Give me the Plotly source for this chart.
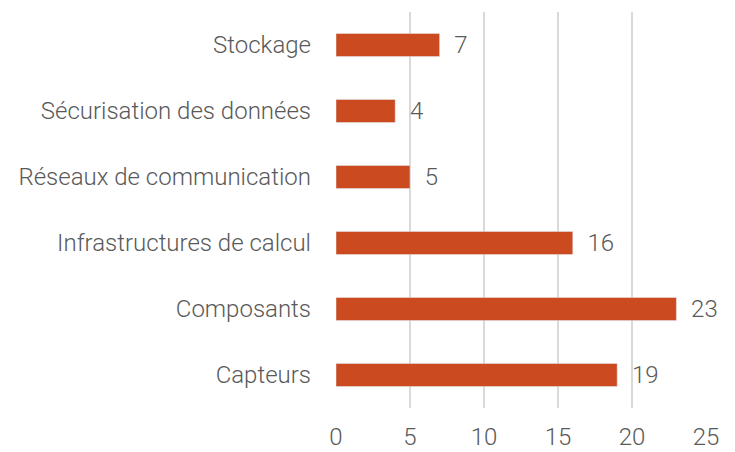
import plotly.graph_objects as go

categories = ["Capteurs", "Composants", "Infrastructures de calcul",
              "Réseaux de communication", "Sécurisation des données", "Stockage"]
values = [19, 23, 16, 5, 4, 7]
x_ticks = [0, 5, 10, 15, 20, 25]

grey = "#595959"
font = dict(family="Roboto", size=24, color=grey, weight=300)

fig = go.Figure()
fig.add_trace(go.Bar(
    x=values,
    y=categories,
    orientation="h",
    marker=dict(color="#CC4A1F"),
    text=values,
    texttemplate="  %{x}",
    textposition="outside",
    constraintext="none",
    textfont=font,
    cliponaxis=False,
))

# the page body has an 8px margin, so the figure is shifted up/left by 8px
fig.update_layout(
    width=735, height=452,
    margin=dict(l=328, r=37, t=4, b=52, autoexpand=False),
    plot_bgcolor="white",
    paper_bgcolor="white",
    font=font,
    bargap=0.65,
    showlegend=False,
    xaxis=dict(
        range=[0, 25],
        tickvals=x_ticks,
        showgrid=True,
        gridcolor="#D9D9D9",
        gridwidth=1.5,
        zeroline=False,
        ticks="",
        ticklabelstandoff=12,
        tickfont=font,
        automargin=False,
    ),
    yaxis=dict(
        showgrid=False,
        ticks="",
        ticklabelstandoff=24,
        tickfont=font,
        automargin=False,
    ),
)

fig.write_html("out.html")
